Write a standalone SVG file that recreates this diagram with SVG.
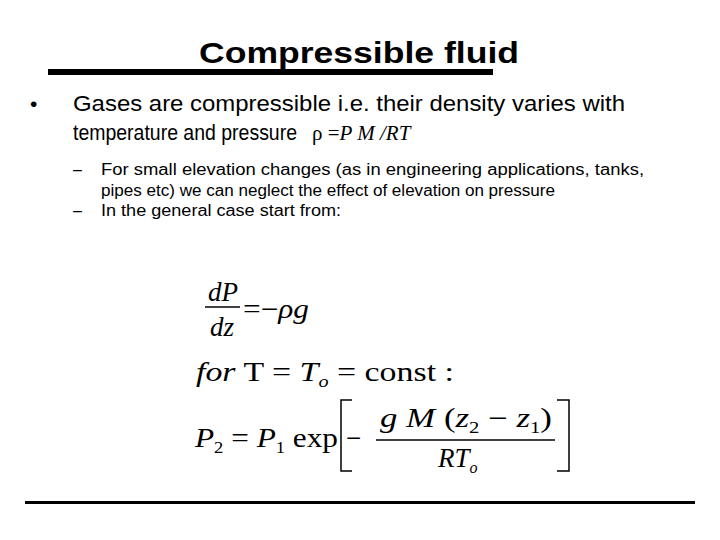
<svg xmlns="http://www.w3.org/2000/svg" width="720" height="540" viewBox="0 0 720 540">
<style>
.s{font-family:"Liberation Sans",Arial,sans-serif;fill:#000}
.m{font-family:"Liberation Serif","Times New Roman",serif;fill:#000}
.i{font-style:italic}
</style>
<rect width="720" height="540" fill="#fff"/>
<text class="s" x="359" y="63" font-size="30" font-weight="bold" text-anchor="middle" textLength="320" lengthAdjust="spacingAndGlyphs">Compressible fluid</text>
<rect x="48" y="69" width="445" height="6" fill="#000"/>
<text class="s" x="30" y="111" font-size="21">•</text>
<text class="s" x="73" y="111" font-size="22" textLength="552" lengthAdjust="spacingAndGlyphs">Gases are compressible i.e. their density varies with</text>
<text class="s" x="73" y="140" font-size="22" textLength="224" lengthAdjust="spacingAndGlyphs">temperature and pressure</text>
<text class="m" x="312" y="140" font-size="21">ρ =<tspan class="i">P M /RT</tspan></text>
<text class="s" x="73" y="175" font-size="16">–</text>
<text class="s" x="101" y="175" font-size="16" textLength="543" lengthAdjust="spacingAndGlyphs">For small elevation changes (as in engineering applications, tanks,</text>
<text class="s" x="101" y="196" font-size="16" textLength="454" lengthAdjust="spacingAndGlyphs">pipes etc) we can neglect the effect of elevation on pressure</text>
<text class="s" x="73" y="216" font-size="16">–</text>
<text class="s" x="101" y="216" font-size="16" textLength="240" lengthAdjust="spacingAndGlyphs">In the general case start from:</text>
<g class="m" font-size="27">
<text class="i" x="208" y="301">dP</text>
<line x1="205" y1="307" x2="240" y2="307" stroke="#000" stroke-width="1.3"/>
<text class="i" x="210" y="336">dz</text>
<text x="243" y="318" textLength="66" lengthAdjust="spacingAndGlyphs">=−<tspan class="i">ρg</tspan></text>
<text x="196" y="381" textLength="258" lengthAdjust="spacingAndGlyphs"><tspan class="i">for</tspan> T = <tspan class="i">T</tspan><tspan font-size="16" class="i" dy="6">o</tspan><tspan dy="-6"> = const :</tspan></text>
<text x="195" y="447" textLength="143" lengthAdjust="spacingAndGlyphs"><tspan class="i">P</tspan><tspan font-size="16" dy="6">2</tspan><tspan dy="-6"> = </tspan><tspan class="i">P</tspan><tspan font-size="16" dy="6">1</tspan><tspan dy="-6"> exp</tspan></text>
<path d="M352,400 H341 V471 H352 M557,400 H569 V471 H557" fill="none" stroke="#000" stroke-width="1.5"/>
<text x="346" y="447">−</text>
<text x="380" y="427" textLength="172" lengthAdjust="spacingAndGlyphs"><tspan class="i">g</tspan>  <tspan class="i">M</tspan> (<tspan class="i">z</tspan><tspan font-size="16" dy="6">2</tspan><tspan dy="-6"> − </tspan><tspan class="i">z</tspan><tspan font-size="16" dy="6">1</tspan><tspan dy="-6">)</tspan></text>
<line x1="376" y1="440" x2="555" y2="440" stroke="#000" stroke-width="1.3"/>
<text class="i" x="438" y="467">RT<tspan font-size="16" dy="6">o</tspan></text>
</g>
<rect x="25" y="501" width="670" height="3" fill="#000"/>
</svg>
